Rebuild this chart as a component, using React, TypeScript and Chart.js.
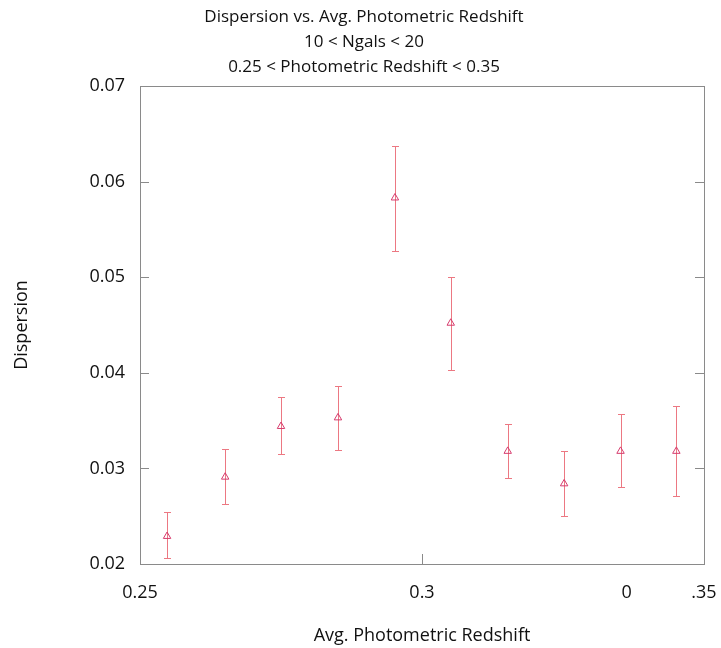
import { useEffect, useRef } from 'react';
import { Chart, registerables } from 'chart.js';

Chart.register(...registerables);

const redshift = [0.2548, 0.2651, 0.275, 0.2851, 0.2952, 0.3051, 0.3152, 0.3252, 0.3352, 0.3451];
const dispersion = [0.0229, 0.0291, 0.0344, 0.0353, 0.0583, 0.0452, 0.0318, 0.0284, 0.0318, 0.0318];
const errLow = [0.0206, 0.0263, 0.0315, 0.0319, 0.0527, 0.0403, 0.029, 0.025, 0.0281, 0.0271];
const errHigh = [0.0254, 0.032, 0.0375, 0.0386, 0.0637, 0.05, 0.0346, 0.0318, 0.0357, 0.0365];

const xTickValues = [0.25, 0.3, 0.3363, 0.35];
const xTickLabels = ['0.25', '0.3', '0', '.35'];
const xTickMarks = [0.25, 0.3, 0.35];
const yTickValues = [0.02, 0.03, 0.04, 0.05, 0.06, 0.07];
const yTickLabels = ['0.02', '0.03', '0.04', '0.05', '0.06', '0.07'];

const titleLines = [
  'Dispersion vs. Avg. Photometric Redshift',
  '10 < Ngals < 20',
  '0.25 < Photometric Redshift < 0.35',
];
const xTitle = 'Avg. Photometric Redshift';
const yTitle = 'Dispersion';

const FONT = "'Open Sans', 'DejaVu Sans', sans-serif";
const ERR_COLOR = 'rgb(236,120,130)';
const MARK_COLOR = 'rgb(214,60,110)';
const FRAME_COLOR = '#8a8a8a';

const framePlugin = {
  id: 'frameAndErrors',
  beforeDatasetsDraw(chart: any) {
    const { ctx, chartArea, scales } = chart;
    const { left, right, top, bottom } = chartArea;
    const x = scales.x;
    const y = scales.y;
    ctx.save();
    ctx.strokeStyle = FRAME_COLOR;
    ctx.lineWidth = 1;
    ctx.strokeRect(Math.round(left) + 0.5, Math.round(top) + 0.5, Math.round(right - left), Math.round(bottom - top));
    ctx.beginPath();
    yTickValues.forEach((v) => {
      const py = Math.round(y.getPixelForValue(v)) + 0.5;
      ctx.moveTo(left, py);
      ctx.lineTo(left + 9, py);
      ctx.moveTo(right, py);
      ctx.lineTo(right - 9, py);
    });
    xTickMarks.forEach((v) => {
      const px = Math.round(x.getPixelForValue(v)) + 0.5;
      ctx.moveTo(px, bottom);
      ctx.lineTo(px, bottom - 10);
    });
    ctx.stroke();

    ctx.strokeStyle = ERR_COLOR;
    ctx.beginPath();
    redshift.forEach((xv, i) => {
      const px = Math.round(x.getPixelForValue(xv)) + 0.5;
      const pl = Math.round(y.getPixelForValue(errLow[i])) + 0.5;
      const ph = Math.round(y.getPixelForValue(errHigh[i])) + 0.5;
      ctx.moveTo(px, pl);
      ctx.lineTo(px, ph);
      ctx.moveTo(px - 3.5, pl);
      ctx.lineTo(px + 3.5, pl);
      ctx.moveTo(px - 3.5, ph);
      ctx.lineTo(px + 3.5, ph);
    });
    ctx.stroke();
    ctx.restore();
  },
};

export default function App() {
  const ref = useRef<HTMLCanvasElement | null>(null);

  useEffect(() => {
    if (!ref.current) return;
    const chart = new Chart(ref.current, {
      type: 'scatter',
      data: {
        datasets: [
          {
            data: redshift.map((v, i) => ({ x: v, y: dispersion[i] })),
            pointStyle: 'triangle',
            pointRadius: 4.3,
            borderColor: MARK_COLOR,
            backgroundColor: 'rgba(0,0,0,0)',
            borderWidth: 1,
            showLine: false,
          },
        ],
      },
      options: {
        animation: false,
        responsive: false,
        layout: { padding: { left: 24, right: 17, top: 0, bottom: 0 } },
        plugins: {
          legend: { display: false },
          tooltip: { enabled: false },
          title: {
            display: true,
            text: titleLines,
            color: '#111',
            font: { family: FONT, size: 17, weight: 'normal', lineHeight: 1.47 },
            padding: { top: 5, bottom: 6 },
          },
        },
        scales: {
          x: {
            type: 'linear',
            min: 0.25,
            max: 0.35,
            grid: { display: false, drawTicks: false },
            border: { display: false },
            afterBuildTicks: (scale: any) => {
              scale.ticks = xTickValues.map((v) => ({ value: v }));
            },
            afterFit: (scale: any) => {
              scale.height = 84;
              scale.paddingLeft = 0;
              scale.paddingRight = 0;
            },
            ticks: {
              autoSkip: false,
              maxRotation: 0,
              padding: 18,
              color: '#111',
              font: { family: FONT, size: 18 },
              callback: (_v: any, i: number) => xTickLabels[i],
            },
            title: {
              display: true,
              text: xTitle,
              color: '#111',
              font: { family: FONT, size: 18 },
              padding: { top: 1, bottom: 1 },
            },
          },
          y: {
            type: 'linear',
            min: 0.02,
            max: 0.07,
            grid: { display: false, drawTicks: false },
            border: { display: false },
            afterBuildTicks: (scale: any) => {
              scale.ticks = yTickValues.map((v) => ({ value: v }));
            },
            afterFit: (scale: any) => {
              scale.width = 116;
              scale.paddingTop = 0;
              scale.paddingBottom = 0;
            },
            ticks: {
              autoSkip: false,
              padding: 15,
              color: '#111',
              font: { family: FONT, size: 18 },
              callback: (_v: any, i: number) => yTickLabels[i],
            },
            title: {
              display: true,
              text: yTitle,
              color: '#111',
              font: { family: FONT, size: 18 },
              padding: { top: -13, bottom: 0 },
            },
          },
        },
      },
      plugins: [framePlugin],
    } as any);
    return () => chart.destroy();
  }, []);

  return (
    <div style={{ position: 'absolute', left: 0, top: 0, width: 721, height: 648, background: '#fff' }}>
      <canvas ref={ref} width={721} height={648} style={{ width: 721, height: 648, display: 'block' }} />
    </div>
  );
}
